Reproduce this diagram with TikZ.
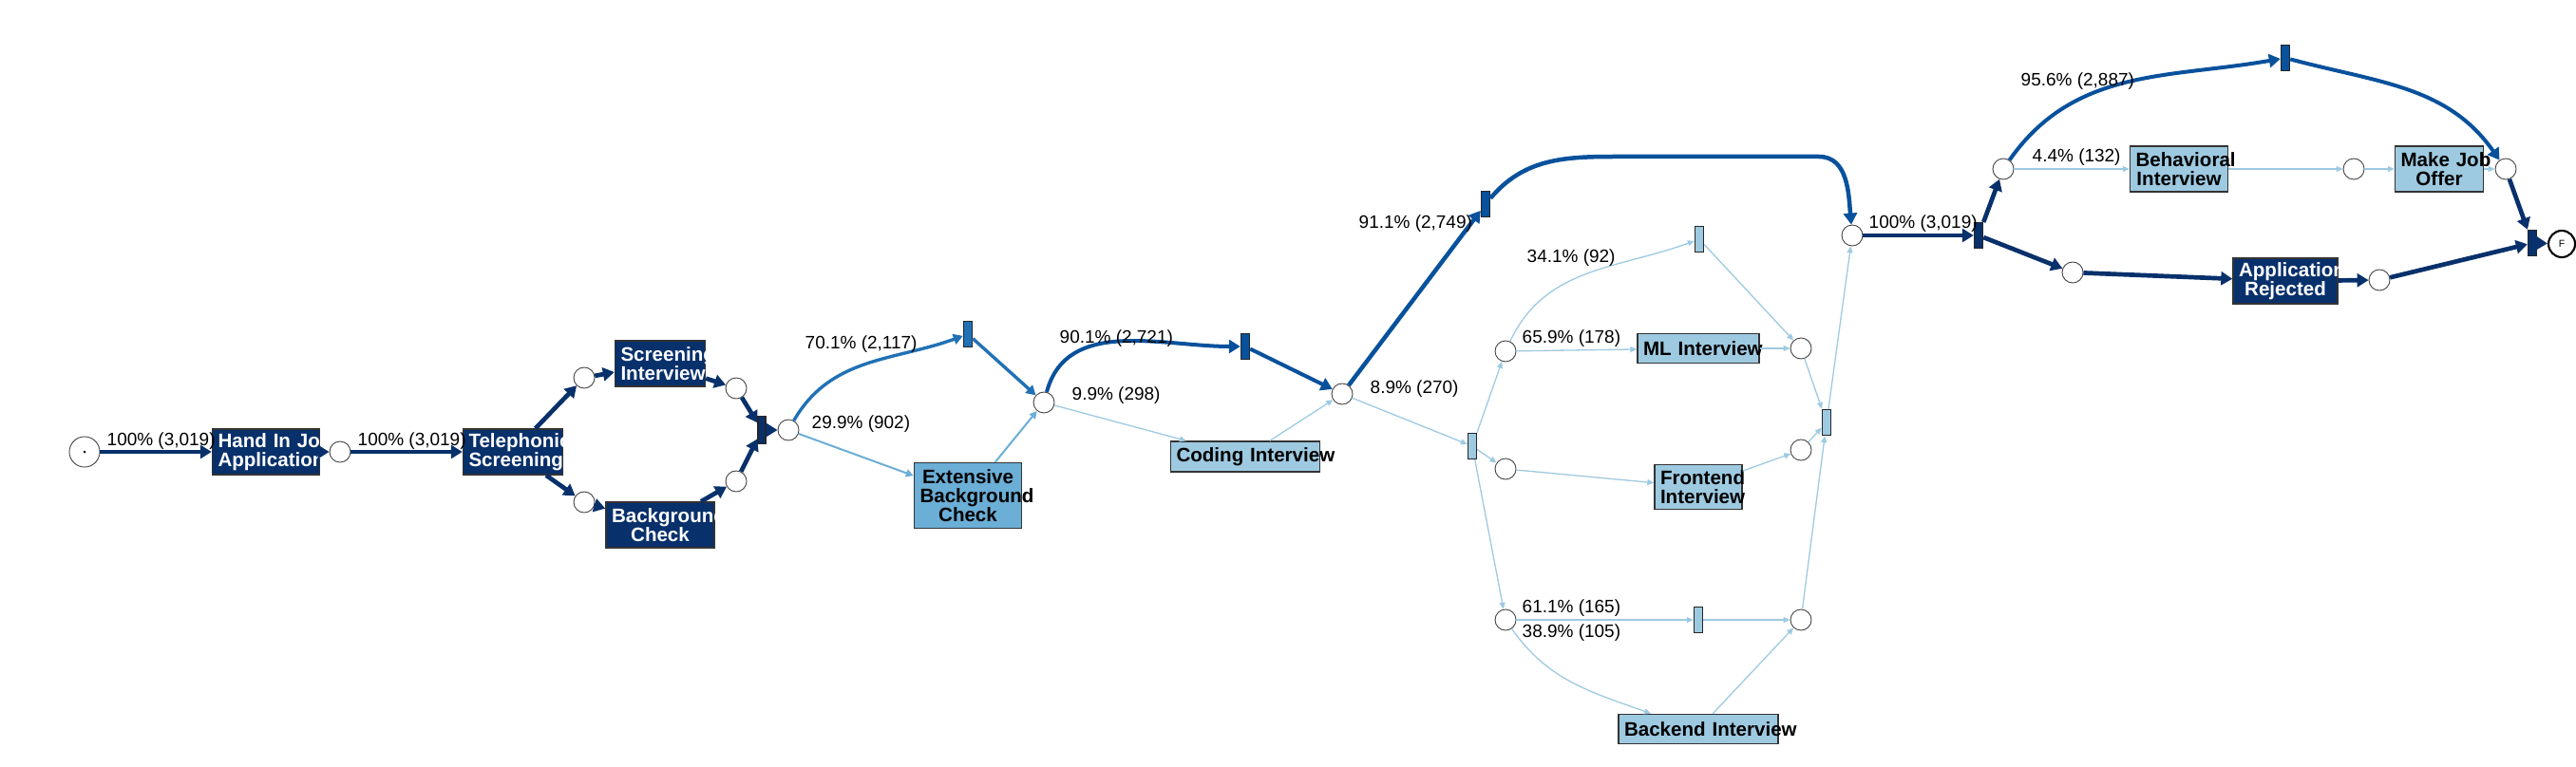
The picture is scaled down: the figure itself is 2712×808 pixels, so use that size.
\documentclass[tikz,border=0pt]{standalone}
\usepackage{fontspec}
\setmainfont{Liberation Sans}
\usepackage{tikz}
\usepackage{xcolor}
\usetikzlibrary{arrows.meta}
\definecolor{BluesDark}{HTML}{08306B}
\definecolor{BluesDeep}{HTML}{08519C}
\definecolor{BluesMid}{HTML}{2171B5}
\definecolor{BluesSoft}{HTML}{6BAED6}
\definecolor{BluesPale}{HTML}{9ECAE1}
\newcommand{\lblfont}{\fontsize{5.4pt}{6pt}\selectfont}
\newcommand{\actfont}{\fontsize{5.85pt}{5.7pt}\selectfont\bfseries\hyphenpenalty=10000\exhyphenpenalty=10000\relax}
\tikzset{
  place/.style={circle, draw=black!75, fill=white, line width=0.25pt, minimum size=2.2mm, inner sep=0pt},
  trans/.style={rectangle, draw=black!85, line width=0.4pt, minimum width=0.9mm, minimum height=2.7mm, inner sep=0pt},
  act/.style={rectangle, draw=black!80, line width=0.4pt, inner xsep=0.6mm, inner ysep=0pt, align=center, font=\actfont},
  darkact/.style={act, fill=BluesDark, text=white},
  paleact/.style={act, fill=BluesPale},
  lbl/.style={anchor=west, inner sep=0pt, font=\lblfont},
  flow0/.style={BluesDark, line width=0.47mm, -{Triangle[length=1.2mm, width=1.4mm]}},
  flow1/.style={BluesDeep, line width=0.45mm, -{Triangle[length=1.2mm, width=1.4mm]}},
  flow2/.style={BluesMid, line width=0.34mm, -{Triangle[length=1mm, width=1.1mm]}},
  flow3/.style={BluesSoft, line width=0.2mm, -{Triangle[length=0.8mm, width=0.8mm]}},
  flow4/.style={BluesPale, line width=0.13mm, -{Triangle[length=0.7mm, width=0.6mm]}},
}

\begin{document}
\begin{tikzpicture}[x=0.1mm, y=0.1mm]
    \useasboundingbox (0,0) rectangle (2712,-808);

    % Places
    \node[place, minimum size=3.2mm] (pS) at (89,-476) {};
    \fill (pS) circle (0.15mm);
    \node[place] (p1) at (358,-476) {};
    \node[place] (p2) at (615,-398) {};
    \node[place] (p3) at (615,-529) {};
    \node[place] (p4) at (775,-409) {};
    \node[place] (p5) at (775,-507) {};
    \node[place] (p6) at (830,-453) {};
    \node[place] (p7) at (1099,-424) {};
    \node[place] (p8) at (1413,-415) {};
    \node[place] (p9) at (1585,-370) {};
    \node[place] (p10) at (1585,-494) {};
    \node[place] (p11) at (1585,-653) {};
    \node[place] (p12) at (1896,-367) {};
    \node[place] (p13) at (1896,-474) {};
    \node[place] (p14) at (1896,-653) {};
    \node[place] (p15) at (1950,-248) {};
    \node[place] (p16) at (2109,-178) {};
    \node[place] (p17) at (2182,-287) {};
    \node[place] (p18) at (2478,-178) {};
    \node[place] (p19) at (2638,-178) {};
    \node[place] (p20) at (2505,-295) {};
    \node[place, minimum size=2.8mm, draw=black, line width=0.6pt, font=\fontsize{3pt}{3pt}\selectfont] (pE) at (2697,-257) {F};

    % Silent transitions
    \node[trans, fill=BluesDark, minimum width=0.8mm, minimum height=2.9mm] (tJ1) at (802,-453) {};
    \node[trans, fill=BluesMid] (tS1) at (1019,-352) {};
    \node[trans, fill=BluesDeep] (tS2) at (1311,-365) {};
    \node[trans, fill=BluesDeep] (tS3) at (1564,-215) {};
    \node[trans, fill=BluesPale] (tSp) at (1550,-470) {};
    \node[trans, fill=BluesPale] (tS4) at (1789,-252) {};
    \node[trans, fill=BluesPale] (tJ2) at (1923,-445) {};
    \node[trans, fill=BluesPale] (tS5) at (1788,-653) {};
    \node[trans, fill=BluesDark] (tX) at (2083,-248) {};
    \node[trans, fill=BluesDeep] (tS6) at (2406,-61) {};
    \node[trans, fill=BluesDark] (tJ3) at (2666,-256) {};

    % Activities
    \node[darkact, text width=10.1mm, minimum height=4.8mm] (bHand) at (280,-476) {Hand~In~Job\\Application};
    \node[darkact, text width=9.3mm, minimum height=4.8mm] (bTel) at (540,-476) {Telephonic\\Screening};
    \node[darkact, text width=8.3mm, minimum height=4.8mm] (bScr) at (695,-383) {Screening\\Interview};
    \node[darkact, text width=10.2mm, minimum height=4.8mm] (bBg) at (695,-553) {Background\\Check};
    \node[act, fill=BluesSoft, text width=10.1mm, minimum height=6.9mm] (bEbc) at (1019,-522) {Extensive\\Background\\Check};
    \node[paleact, text width=14.5mm, minimum height=3.2mm] (bCode) at (1311,-481) {Coding~Interview};
    \node[paleact, text width=11.6mm, minimum height=3.1mm] (bML) at (1788,-367) {ML~Interview};
    \node[paleact, text width=8.0mm, minimum height=4.7mm] (bFront) at (1788,-513) {Frontend\\Interview};
    \node[paleact, text width=15.6mm, minimum height=3.1mm] (bBack) at (1788,-768) {Backend~Interview};
    \node[paleact, text width=9.1mm, minimum height=4.8mm] (bBeh) at (2294,-178) {Behavioral\\Interview};
    \node[paleact, text width=8.1mm, minimum height=4.8mm] (bOffer) at (2568,-178) {Make~Job\\Offer};
    \node[darkact, text width=9.8mm, minimum height=4.8mm] (bRej) at (2406,-296) {Application\\Rejected};

    % Bend points of the long skip
    \coordinate (bendA) at (1700,-165);
    \coordinate (bendB) at (1915,-165);

    % Screening part
    \draw[flow0] (pS) -- (bHand);
    \draw[flow0] (bHand) -- (p1);
    \draw[flow0] (p1) -- (bTel);
    \draw[flow0] (bTel) -- (p2);
    \draw[flow0] (bTel) -- (p3);
    \draw[flow0] (p2) -- (bScr);
    \draw[flow0] (p3) -- (bBg);
    \draw[flow0] (bScr) -- (p4);
    \draw[flow0] (bBg) -- (p5);
    \draw[flow0] (p4) -- (tJ1);
    \draw[flow0] (p5) -- (tJ1);
    \draw[flow0] (tJ1) -- (p6);

    % Background check and coding
    \draw[flow2] (p6) to[out=60, in=200] (tS1);
    \draw[flow3] (p6) -- (bEbc);
    \draw[flow2] (tS1) -- (p7);
    \draw[flow3] (bEbc) -- (p7);
    \draw[flow1, line width=0.4mm] (p7) to[out=75, in=180] (tS2);
    \draw[flow4] (p7) -- (bCode);
    \draw[flow1, line width=0.4mm] (tS2) -- (p8);
    \draw[flow4] (bCode) -- (p8);
    \draw[flow1] (p8) -- (tS3);
    \draw[flow4] (p8) -- (tSp);
    \draw[flow1] (tS3) to[out=50, in=180] (bendA) -- (bendB) to[out=0, in=95] (p15);

    % Technical interviews
    \draw[flow4] (tSp) -- (p9);
    \draw[flow4] (tSp) -- (p10);
    \draw[flow4] (tSp) -- (p11);
    \draw[flow4] (p9) to[out=65, in=200] (tS4);
    \draw[flow4] (p9) -- (bML);
    \draw[flow4] (tS4) -- (p12);
    \draw[flow4] (bML) -- (p12);
    \draw[flow4] (p10) -- (bFront);
    \draw[flow4] (bFront) -- (p13);
    \draw[flow4] (p11) -- (tS5);
    \draw[flow4] (p11) to[out=-55, in=160] ([xshift=-5mm]bBack.north);
    \draw[flow4] (tS5) -- (p14);
    \draw[flow4] (bBack) -- (p14);
    \draw[flow4] (p12) -- (tJ2);
    \draw[flow4] (p13) -- (tJ2);
    \draw[flow4] (p14) -- (tJ2);
    \draw[flow4] (tJ2) -- (p15);

    % Decision
    \draw[flow0] (p15) -- (tX);
    \draw[flow0] (tX) -- (p16);
    \draw[flow0] (tX) -- (p17);
    \draw[flow1, line width=0.4mm] (p16) to[out=55, in=190] (tS6);
    \draw[flow1, line width=0.4mm] (tS6) to[out=-15, in=125] (p19);
    \draw[flow4] (p16) -- (bBeh);
    \draw[flow4] (bBeh) -- (p18);
    \draw[flow4] (p18) -- (bOffer);
    \draw[flow4] (bOffer) -- (p19);
    \draw[flow0] (p17) -- (bRej);
    \draw[flow0] (bRej) -- (p20);
    \draw[flow0] (p19) -- (tJ3);
    \draw[flow0] (p20) -- (tJ3);
    \draw[flow0] (tJ3) -- (pE);

    % Frequencies
    \node[lbl] (l1) at (112,-465) {100\% (3,019)};
    \node[lbl] (l2) at (376,-465) {100\% (3,019)};
    \node[lbl] (l3) at (847,-363) {70.1\% (2,117)};
    \node[lbl] (l4) at (854,-447) {29.9\% (902)};
    \node[lbl] (l5) at (1115,-357) {90.1\% (2,721)};
    \node[lbl] (l6) at (1128,-417) {9.9\% (298)};
    \node[lbl] (l7) at (1430,-236) {91.1\% (2,749)};
    \node[lbl] (l8) at (1442,-410) {8.9\% (270)};
    \node[lbl] (l9) at (1607,-272) {34.1\% (92)};
    \node[lbl] (l10) at (1602,-357) {65.9\% (178)};
    \node[lbl] (l11) at (1602,-641) {61.1\% (165)};
    \node[lbl] (l12) at (1602,-667) {38.9\% (105)};
    \node[lbl] (l13) at (1967,-236) {100\% (3,019)};
    \node[lbl] (l14) at (2127,-86) {95.6\% (2,887)};
    \node[lbl] (l15) at (2139,-166) {4.4\% (132)};
\end{tikzpicture}
\end{document}
